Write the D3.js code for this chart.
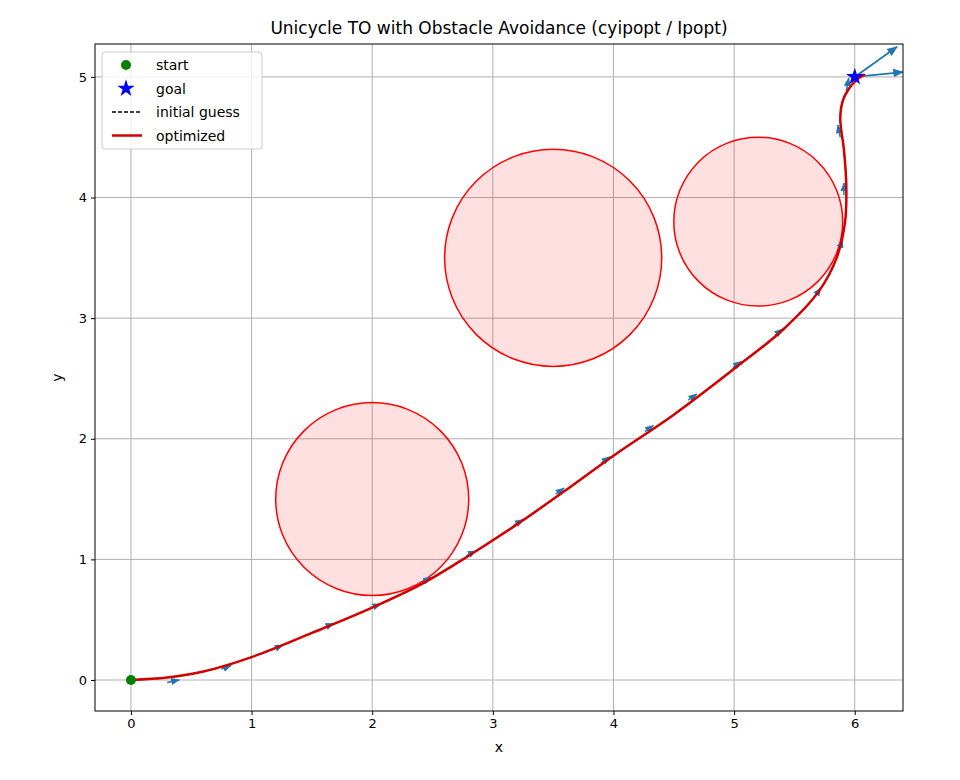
<!DOCTYPE html><html><head><script src="https://cdn.jsdelivr.net/npm/d3@7"></script>
<style>body{margin:0;background:#fff}text{font-family:"DejaVu Sans",sans-serif}</style></head><body><svg id="c" width="960" height="780"></svg><script>
const xTicks=[0,1,2,3,4,5,6], yTicks=[0,1,2,3,4,5];
const obstacles=[[2,1.5,0.8],[3.5,3.5,0.9],[5.2,3.8,0.7]];
const pathX=[0,0.3,0.6,1,1.5,2,2.4,2.8,3.2,3.6,4,4.5,5,5.4,5.7,5.85,5.92,5.93,5.91,5.88,5.9,5.95,6.02,6.08,6.0];
const pathY=[0,0.02,0.07,0.19,0.39,0.6,0.79,1.03,1.29,1.57,1.86,2.2,2.58,2.9,3.22,3.5,3.8,4.1,4.4,4.65,4.8,4.9,4.98,5.02,5.0];
const arrX=[0.3,0.75,1.17,1.59,1.99,2.41,2.78,3.17,3.52,3.9,4.26,4.62,4.99,5.34,5.67,5.87,5.91,5.88,5.93];
const arrY=[-0.02,0.09,0.25,0.43,0.6,0.81,1.03,1.28,1.54,1.8,2.06,2.32,2.59,2.86,3.18,3.57,4.02,4.5,4.88];
const arrU=[0.1,0.08,0.09,0.09,0.08,0.08,0.08,0.08,0.07,0.07,0.07,0.07,0.07,0.06,0.05,0.03,0.0,-0.02,0.02];
const arrV=[0.02,0.03,0.04,0.04,0.03,0.04,0.04,0.05,0.05,0.05,0.05,0.05,0.05,0.05,0.07,0.08,0.1,0.1,0.11];
const bigArr=[[6,5,6.35,5.25],[6,5,6.4,5.04]];
const svg=d3.select("#c");
const L=95,R=903,T=44,B=711;
const x=d3.scaleLinear().domain([-0.298,6.4]).range([L,R]);
const y=d3.scaleLinear().domain([-0.257,5.273]).range([B,T]);
const defs=svg.append("defs");
defs.append("marker").attr("id","ah").attr("viewBox","0 0 10 10").attr("refX",9).attr("refY",5).attr("markerWidth",6).attr("markerHeight",6).attr("markerUnits","strokeWidth").attr("orient","auto").append("path").attr("d","M0,1L10,5L0,9z").attr("fill","#1f77b4");
defs.append("clipPath").attr("id","cp").append("rect").attr("x",L).attr("y",T).attr("width",R-L).attr("height",B-T);
const g=svg.append("g");
g.selectAll(".gx").data(xTicks).join("line").attr("x1",d=>x(d)).attr("x2",d=>x(d)).attr("y1",T).attr("y2",B).attr("stroke","#b0b0b0").attr("stroke-width",1);
g.selectAll(".gy").data(yTicks).join("line").attr("y1",d=>y(d)).attr("y2",d=>y(d)).attr("x1",L).attr("x2",R).attr("stroke","#b0b0b0").attr("stroke-width",1);
const pg=svg.append("g").attr("clip-path","url(#cp)");
pg.selectAll("ellipse").data(obstacles).join("ellipse").attr("cx",d=>x(d[0])).attr("cy",d=>y(d[1])).attr("rx",d=>x(d[2])-x(0)).attr("ry",d=>y(0)-y(d[2])).attr("fill","rgba(255,0,0,0.12)").attr("stroke","red").attr("stroke-width",1.5);
const pts=pathX.map((v,i)=>[v,pathY[i]]);
const line=d3.line().x(d=>x(d[0])).y(d=>y(d[1])).curve(d3.curveCatmullRom);
pg.append("path").attr("d",line(pts)).attr("fill","none").attr("stroke","#000").attr("stroke-dasharray","4,2").attr("stroke-width",1.2);
pg.selectAll(".a").data(arrX).join("line").attr("x1",(d,i)=>x(d)).attr("y1",(d,i)=>y(arrY[i])).attr("x2",(d,i)=>x(d+arrU[i])).attr("y2",(d,i)=>y(arrY[i]+arrV[i])).attr("stroke","#1f77b4").attr("stroke-width",1.5).attr("marker-end","url(#ah)");
pg.selectAll(".b").data(bigArr).join("line").attr("x1",d=>x(d[0])).attr("y1",d=>y(d[1])).attr("x2",d=>x(d[2])).attr("y2",d=>y(d[3])).attr("stroke","#1f77b4").attr("stroke-width",1.8).attr("marker-end","url(#ah)");
pg.append("path").attr("d",line(pts)).attr("fill","none").attr("stroke","#d40000").attr("stroke-width",2.5);
pg.append("circle").attr("cx",x(0)).attr("cy",y(0)).attr("r",5).attr("fill","green");
const star=d3.symbol().type(d3.symbolStar).size(95);
pg.append("path").attr("d",star()).attr("transform",`translate(${x(6)},${y(5)})`).attr("fill","blue");
svg.append("rect").attr("x",L).attr("y",T).attr("width",R-L).attr("height",B-T).attr("fill","none").attr("stroke","#000").attr("stroke-width",1);
const ax=svg.append("g").attr("transform",`translate(0,${B})`).call(d3.axisBottom(x).tickValues(xTicks).tickSize(4).tickPadding(4).tickFormat(d3.format("d")));
const ay=svg.append("g").attr("transform",`translate(${L},0)`).call(d3.axisLeft(y).tickValues(yTicks).tickSize(4).tickPadding(4).tickFormat(d3.format("d")));
[ax,ay].forEach(a=>{a.select(".domain").remove();a.selectAll("text").attr("font-size",13).attr("fill","#000").style("font-family","DejaVu Sans");});
svg.append("text").attr("x",(L+R)/2).attr("y",34).attr("text-anchor","middle").attr("font-size",17).text("Unicycle TO with Obstacle Avoidance (cyipopt / Ipopt)");
svg.append("text").attr("x",(L+R)/2).attr("y",752).attr("text-anchor","middle").attr("font-size",14).text("x");
svg.append("text").attr("transform",`translate(62,${(T+B)/2}) rotate(-90)`).attr("text-anchor","middle").attr("font-size",14).text("y");
const lg=svg.append("g").attr("transform","translate(102,52)");
lg.append("rect").attr("width",160).attr("height",97).attr("rx",3).attr("fill","#fff").attr("fill-opacity",0.8).attr("stroke","#ccc");
const items=["start","goal","initial guess","optimized"];
items.forEach((t,i)=>{const yy=13+i*23.5;lg.append("text").attr("x",54).attr("y",yy+5).attr("font-size",14).text(t);});
lg.append("circle").attr("cx",24).attr("cy",13).attr("r",5).attr("fill","green");
lg.append("path").attr("d",star()).attr("transform","translate(24,36.5)").attr("fill","blue");
lg.append("line").attr("x1",10).attr("x2",40).attr("y1",60).attr("y2",60).attr("stroke","#000").attr("stroke-dasharray","4,2").attr("stroke-width",1.3);
lg.append("line").attr("x1",10).attr("x2",40).attr("y1",83.5).attr("y2",83.5).attr("stroke","#d40000").attr("stroke-width",2.5);
</script></body></html>
